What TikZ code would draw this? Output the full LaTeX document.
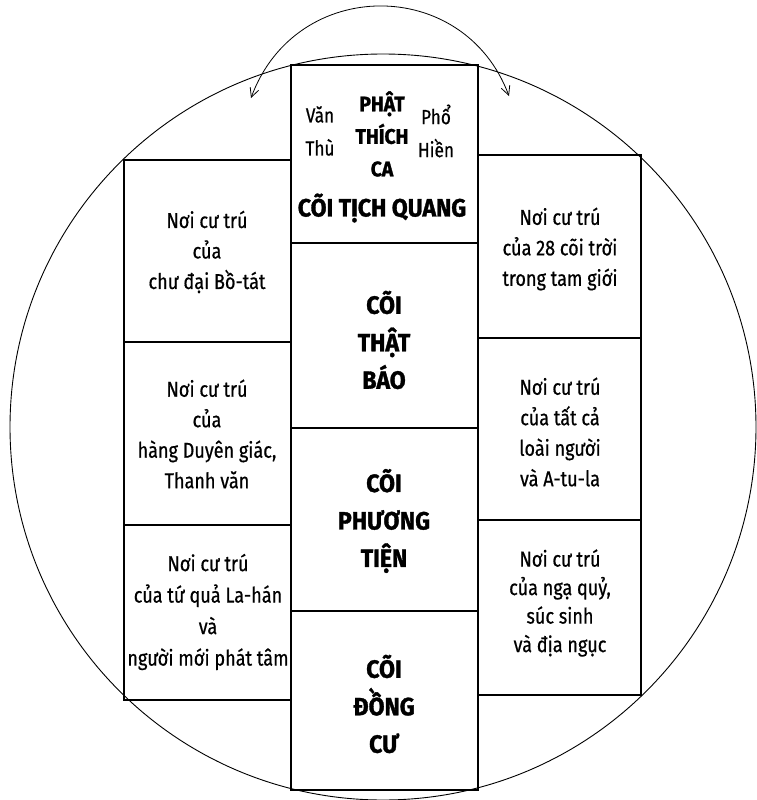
\documentclass[tikz,border=0pt]{standalone}
\usepackage{fontspec}
\setmainfont{Fira Sans}[FakeStretch=0.84]
\newfontfamily\bodyfont{Fira Sans}[FakeStretch=0.84, FakeBold=0.6]
\newfontfamily\headfont{Fira Sans}[FakeStretch=0.92, FakeBold=1.3]
\usetikzlibrary{arrows.meta}
\begin{document}
\begin{tikzpicture}[x=1pt,y=-1pt,
  frame/.style={line width=1.1pt},
  ring/.style={line width=0.9pt},
  body/.style={align=center, font=\bodyfont\fontsize{21.5}{30.5}\selectfont, inner sep=0pt},
  side/.style={align=center, font=\bodyfont\fontsize{20.5}{33}\selectfont, inner sep=0pt},
  title/.style={align=center, font=\headfont\bfseries\fontsize{25}{37.5}\selectfont, inner sep=0pt},
  buddha/.style={align=center, font=\headfont\bfseries\fontsize{21}{32.5}\selectfont, inner sep=0pt},
  swap/.style={line width=0.8pt, {Straight Barb[length=9pt,width=9pt]}-{Straight Barb[length=9pt,width=9pt]}}
]
\useasboundingbox (0,0) rectangle (756,800);
% outer circle
\draw[ring] (383,427) circle[radius=373];
% central column
\draw[frame] (291,65) rectangle (478,790);
\draw[frame] (291,243) -- (478,243);
\draw[frame] (291,428) -- (478,428);
\draw[frame] (291,611) -- (478,611);
% left column
\draw[frame] (291,160) -- (124,160) -- (124,700) -- (291,700);
\draw[frame] (124,342) -- (291,342);
\draw[frame] (124,525) -- (291,525);
% right column
\draw[frame] (478,155) -- (641,155) -- (641,695) -- (478,695);
\draw[frame] (478,338) -- (641,338);
\draw[frame] (478,520) -- (641,520);
% top texts
\node[side] (van) at (320,131) {Văn\\Thù};
\node[buddha] (phat) at (382,134) {PHẬT\\THÍCH\\CA};
\node[side] (pho) at (436,131) {Phổ\\Hiền};
\node[title] (tich) at (382,208) {CÕI TỊCH QUANG};
% central texts
\node[title] (thatbao) at (384,340) {CÕI\\THẬT\\BÁO};
\node[title] (phuongtien) at (384,521) {CÕI\\PHƯƠNG\\TIỆN};
\node[title] (dongcu) at (384,704) {CÕI\\ĐỒNG\\CƯ};
% left texts
\node[body] (l1) at (207,252) {Nơi cư trú\\của\\chư đại Bồ-tát};
\node[body] (l2) at (207,434) {Nơi cư trú\\của\\hàng Duyên giác,\\Thanh văn};
\node[body, font=\bodyfont\fontsize{21.5}{31.5}\selectfont] (l3) at (208,612) {Nơi cư trú\\của tứ quả La-hán\\và\\người mới phát tâm};
% right texts
\node[body] (r1) at (560,249) {Nơi cư trú\\của 28 cõi trời\\trong tam giới};
\node[body] (r2) at (560,432) {Nơi cư trú\\của tất cả\\loài người\\và A-tu-la};
\node[body, font=\bodyfont\fontsize{21.5}{28.5}\selectfont] (r3) at (560,603) {Nơi cư trú\\của ngạ quỷ,\\súc sinh\\và địa ngục};
% exchange arrow
\coordinate (la) at (251,98);
\coordinate (ra) at (509,96);
\draw[swap] (la) .. controls (296,-24) and (464,-24) .. (ra);
\end{tikzpicture}
\end{document}
